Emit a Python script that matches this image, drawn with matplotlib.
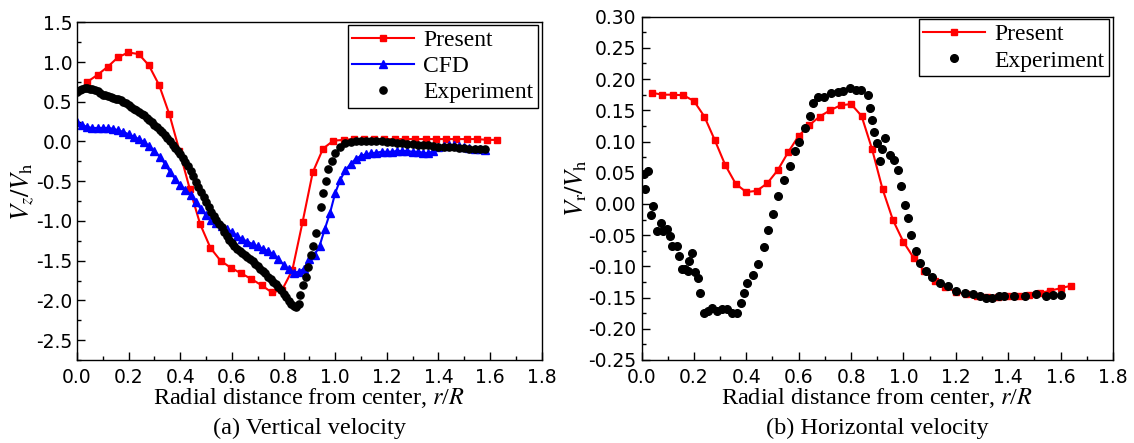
import matplotlib
matplotlib.use('Agg')
import matplotlib.pyplot as plt
from matplotlib.ticker import MultipleLocator, FormatStrFormatter

plt.rcParams['font.family'] = 'Liberation Serif'
plt.rcParams['mathtext.fontset'] = 'stix'

# (a) vertical velocity
present_a_x = [0.040, 0.080, 0.119, 0.159, 0.199, 0.239, 0.278, 0.318, 0.358, 0.397,
               0.437, 0.477, 0.517, 0.556, 0.596, 0.636, 0.675, 0.715, 0.755, 0.794,
               0.834, 0.874, 0.913, 0.953, 0.993, 1.033, 1.072, 1.112, 1.152, 1.191,
               1.231, 1.271, 1.311, 1.350, 1.390, 1.430, 1.469, 1.509, 1.549, 1.589, 1.628]
present_a_y = [0.75, 0.84, 0.94, 1.06, 1.12, 1.10, 0.96, 0.71, 0.34, -0.12,
               -0.60, -1.04, -1.34, -1.50, -1.59, -1.66, -1.73, -1.81, -1.90, -1.87,
               -1.62, -1.01, -0.39, -0.09, 0.01, 0.02, 0.03, 0.03, 0.03, 0.03,
               0.03, 0.03, 0.03, 0.03, 0.03, 0.03, 0.03, 0.03, 0.03, 0.02, 0.02]

cfd_x = [0.00, 0.02, 0.04, 0.06, 0.08, 0.10, 0.12, 0.14, 0.16, 0.18,
         0.20, 0.22, 0.24, 0.26, 0.28, 0.30, 0.32, 0.34, 0.36, 0.38,
         0.40, 0.42, 0.44, 0.46, 0.48, 0.50, 0.52, 0.54, 0.56, 0.58,
         0.60, 0.62, 0.64, 0.66, 0.68, 0.70, 0.72, 0.74, 0.76, 0.78,
         0.80, 0.82, 0.84, 0.86, 0.88, 0.90, 0.92, 0.94, 0.96, 0.98,
         1.00, 1.02, 1.04, 1.06, 1.08, 1.10, 1.12, 1.14, 1.16, 1.18,
         1.20, 1.22, 1.24, 1.26, 1.28, 1.30, 1.32, 1.34, 1.36, 1.38,
         1.40, 1.42, 1.44, 1.46, 1.48, 1.50, 1.52, 1.54, 1.56, 1.58]
cfd_y = [0.24, 0.21, 0.18, 0.17, 0.17, 0.17, 0.17, 0.16, 0.14, 0.12,
         0.09, 0.06, 0.03, -0.01, -0.06, -0.12, -0.19, -0.28, -0.38, -0.47,
         -0.55, -0.61, -0.67, -0.76, -0.85, -0.93, -0.99, -1.03, -1.07, -1.10,
         -1.14, -1.19, -1.23, -1.26, -1.29, -1.32, -1.35, -1.38, -1.42, -1.48,
         -1.55, -1.61, -1.65, -1.64, -1.60, -1.48, -1.43, -1.31, -1.10, -0.90,
         -0.65, -0.48, -0.36, -0.28, -0.22, -0.18, -0.16, -0.15, -0.14, -0.13,
         -0.13, -0.13, -0.12, -0.12, -0.12, -0.13, -0.13, -0.14, -0.15, -0.12,
         -0.07, -0.06, -0.05, -0.05, -0.06, -0.07, -0.08, -0.09, -0.10, -0.11]

exp_a_x = [0.00, 0.01, 0.02, 0.03, 0.04, 0.05, 0.06, 0.07, 0.08, 0.09,
           0.10, 0.11, 0.12, 0.13, 0.14, 0.15, 0.16, 0.17, 0.18, 0.19,
           0.20, 0.21, 0.22, 0.23, 0.24, 0.25, 0.26, 0.27, 0.28, 0.29,
           0.30, 0.31, 0.32, 0.33, 0.34, 0.35, 0.36, 0.37, 0.38, 0.39,
           0.40, 0.41, 0.42, 0.43, 0.44, 0.45, 0.46, 0.47, 0.48, 0.49,
           0.50, 0.51, 0.52, 0.53, 0.54, 0.55, 0.56, 0.57, 0.58, 0.59,
           0.60, 0.61, 0.62, 0.63, 0.64, 0.65, 0.66, 0.67, 0.68, 0.69,
           0.70, 0.71, 0.72, 0.73, 0.74, 0.75, 0.76, 0.77, 0.78, 0.79,
           0.80, 0.81, 0.82, 0.83, 0.84, 0.85,
           0.858, 0.865, 0.877, 0.886, 0.896, 0.906, 0.915, 0.924, 0.945, 0.951,
           0.964, 0.973, 0.986, 0.999, 1.018, 1.04,
           1.06, 1.08, 1.10, 1.12, 1.14, 1.16, 1.18, 1.20, 1.22, 1.24,
           1.26, 1.28, 1.30, 1.32, 1.34, 1.36, 1.38, 1.40, 1.42, 1.44,
           1.46, 1.48, 1.50, 1.52, 1.54, 1.56, 1.58]
exp_a_y = [0.62, 0.65, 0.66, 0.67, 0.67, 0.66, 0.66, 0.65, 0.63, 0.61,
           0.59, 0.58, 0.57, 0.56, 0.55, 0.54, 0.53, 0.52, 0.50, 0.48,
           0.46, 0.44, 0.41, 0.39, 0.37, 0.35, 0.33, 0.30, 0.27, 0.24,
           0.21, 0.18, 0.15, 0.12, 0.08, 0.04, 0.00, -0.04, -0.08, -0.12,
           -0.16, -0.21, -0.26, -0.31, -0.37, -0.44, -0.51, -0.57, -0.63, -0.70,
           -0.76, -0.83, -0.89, -0.94, -0.99, -1.04, -1.08, -1.14, -1.19, -1.24,
           -1.28, -1.32, -1.35, -1.38, -1.40, -1.43, -1.45, -1.48, -1.51, -1.54,
           -1.57, -1.60, -1.63, -1.66, -1.70, -1.73, -1.77, -1.80, -1.83, -1.87,
           -1.92, -1.96, -2.01, -2.05, -2.07, -2.08,
           -2.04, -1.93, -1.81, -1.70, -1.58, -1.43, -1.31, -1.15, -0.83, -0.65,
           -0.50, -0.35, -0.25, -0.14, -0.07, -0.025,
           -0.005, 0.005, 0.01, 0.01, 0.01, 0.005, 0.0, -0.005, -0.01, -0.02,
           -0.025, -0.03, -0.035, -0.04, -0.045, -0.05, -0.06, -0.065, -0.07, -0.07,
           -0.075, -0.08, -0.085, -0.09, -0.095, -0.10, -0.10]

# (b) horizontal velocity
present_b_x = [0.04, 0.08, 0.12, 0.16, 0.20, 0.24, 0.28, 0.32, 0.36, 0.40,
               0.44, 0.48, 0.52, 0.56, 0.60, 0.64, 0.68, 0.72, 0.76, 0.80,
               0.84, 0.88, 0.92, 0.96, 1.00, 1.04, 1.08, 1.12, 1.16, 1.20,
               1.24, 1.28, 1.32, 1.36, 1.40, 1.44, 1.48, 1.52, 1.56, 1.60, 1.64]
present_b_y = [0.178, 0.175, 0.175, 0.174, 0.165, 0.140, 0.102, 0.062, 0.032, 0.019,
               0.021, 0.033, 0.054, 0.083, 0.109, 0.126, 0.140, 0.150, 0.158, 0.160,
               0.141, 0.088, 0.024, -0.026, -0.061, -0.087, -0.108, -0.123, -0.133, -0.141,
               -0.145, -0.148, -0.149, -0.149, -0.148, -0.148, -0.146, -0.143, -0.139, -0.135,
               -0.131]

exp_b_x = [0.008, 0.013, 0.026, 0.035, 0.045, 0.060, 0.073, 0.081, 0.098, 0.109,
           0.117, 0.134, 0.144, 0.153, 0.166, 0.178, 0.182, 0.191, 0.203, 0.217,
           0.225, 0.238, 0.255, 0.271, 0.289, 0.309, 0.327, 0.344, 0.363, 0.378,
           0.392, 0.403, 0.424, 0.445, 0.467, 0.483, 0.502, 0.522, 0.543, 0.566,
           0.585, 0.601, 0.623, 0.642, 0.655, 0.674, 0.695, 0.725, 0.750, 0.769,
           0.797, 0.817, 0.839, 0.864, 0.873, 0.880, 0.886, 0.898, 0.909, 0.917,
           0.931, 0.947, 0.962, 0.981, 0.991, 1.004, 1.016, 1.029, 1.046, 1.065,
           1.086, 1.109, 1.141, 1.169, 1.200, 1.236, 1.264, 1.292, 1.317, 1.338,
           1.366, 1.385, 1.423, 1.464, 1.505, 1.544, 1.571, 1.600]
exp_b_y = [0.048, 0.024, 0.053, -0.017, -0.003, -0.043, -0.030, -0.043, -0.040, -0.052,
           -0.068, -0.068, -0.083, -0.104, -0.104, -0.107, -0.091, -0.078, -0.109, -0.119,
           -0.143, -0.174, -0.172, -0.166, -0.171, -0.168, -0.169, -0.174, -0.174, -0.158,
           -0.142, -0.127, -0.114, -0.097, -0.069, -0.041, -0.016, 0.012, 0.038, 0.060,
           0.085, 0.099, 0.122, 0.141, 0.161, 0.172, 0.172, 0.177, 0.179, 0.181,
           0.186, 0.183, 0.182, 0.175, 0.154, 0.134, 0.115, 0.098, 0.069, 0.088,
           0.106, 0.079, 0.071, 0.054, 0.029, -0.002, -0.022, -0.049, -0.075, -0.094,
           -0.108, -0.117, -0.126, -0.132, -0.140, -0.142, -0.145, -0.148, -0.150, -0.150,
           -0.148, -0.148, -0.148, -0.148, -0.145, -0.148, -0.146, -0.146]


def style_axes(ax, ymaj, ymin, yfmt):
    ax.set_xlim(0, 1.8)
    ax.xaxis.set_major_locator(MultipleLocator(0.2))
    ax.xaxis.set_minor_locator(MultipleLocator(0.1))
    ax.yaxis.set_major_locator(MultipleLocator(ymaj))
    ax.yaxis.set_minor_locator(MultipleLocator(ymin))
    ax.xaxis.set_major_formatter(FormatStrFormatter('%.1f'))
    ax.yaxis.set_major_formatter(FormatStrFormatter(yfmt))
    ax.tick_params(which='both', direction='in', top=False, right=False)
    ax.tick_params(which='major', length=6, width=1)
    ax.tick_params(which='minor', length=3, width=1)
    ax.tick_params(axis='x', pad=6)
    for lab in ax.get_xticklabels() + ax.get_yticklabels():
        lab.set_fontfamily('DejaVu Sans')
        lab.set_fontsize(13.5)
    for s in ax.spines.values():
        s.set_linewidth(1.0)
    ax.set_xlabel(r'Radial distance from center, $r$/$R$', fontsize=17.5, labelpad=-1)


def add_legend(ax, xr):
    leg = ax.legend(loc='upper right', bbox_to_anchor=(xr, 0.993), borderaxespad=0,
                    fancybox=False, edgecolor='black', framealpha=1, fontsize=17,
                    handlelength=2.6, borderpad=0.2, handletextpad=0.4, labelspacing=0.2)
    leg.get_frame().set_linewidth(1.0)


fig = plt.figure(figsize=(11.34, 4.43), dpi=100)

ax1 = fig.add_axes([0.0679, 0.1874, 0.4098, 0.7623])
ax1.plot(present_a_x, present_a_y, color='red', lw=1.5, marker='s', markersize=5, label='Present')
ax1.plot(cfd_x, cfd_y, color='blue', lw=1.5, marker='^', markersize=5.5, label='CFD')
ax1.plot(exp_a_x, exp_a_y, ls='none', color='black', marker='o', markersize=5.2, label='Experiment')
ax1.set_ylim(-2.75, 1.5)
style_axes(ax1, 0.5, 0.25, '%.1f')
ax1.set_ylabel(r'$V_{z}/V_{\rm h}$', fontsize=19, labelpad=0)
add_legend(ax1, 0.992)

ax2 = fig.add_axes([0.5657, 0.1874, 0.4158, 0.775])
ax2.plot(present_b_x, present_b_y, color='red', lw=1.5, marker='s', markersize=5, label='Present')
ax2.plot(exp_b_x, exp_b_y, ls='none', color='black', marker='o', markersize=5.5, label='Experiment')
ax2.set_ylim(-0.25, 0.30)
style_axes(ax2, 0.05, 0.025, '%.2f')
ax2.set_ylabel(r'$V_{\rm r}/V_{\rm h}$', fontsize=19, labelpad=0)
add_legend(ax2, 0.9915)

fig.text(0.0679 + 0.4098 / 2, 0.034, '(a) Vertical velocity', ha='center', va='center', fontsize=17.5)
fig.text(0.5657 + 0.4158 / 2, 0.034, '(b) Horizontal velocity', ha='center', va='center', fontsize=17.5)

fig.savefig('out.png', dpi=100)
